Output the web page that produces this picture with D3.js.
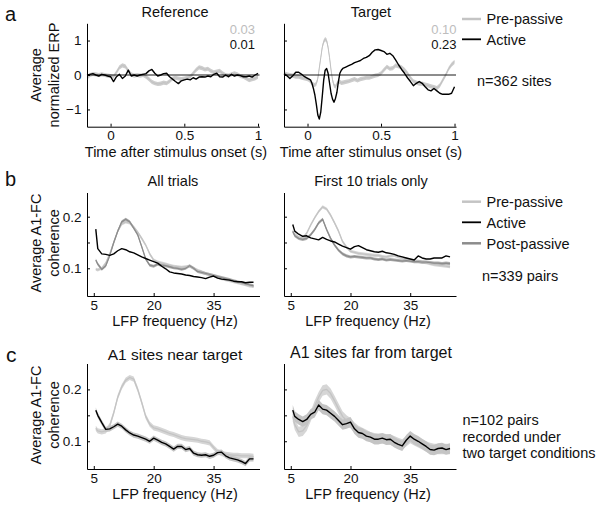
<!DOCTYPE html>
<html><head><meta charset="utf-8">
<script src="https://cdn.jsdelivr.net/npm/d3@7"></script>
<style>body{margin:0;background:#fff} text{font-family:"Liberation Sans",Arial,sans-serif;fill:#111}</style>
</head><body><svg id="c" width="600" height="507"></svg>
<script>
// ---------- DATA ----------
const timeRef = [-0.16,-0.14,-0.12,-0.10,-0.08,-0.06,-0.04,-0.02,0,0.02,0.04,0.06,0.08,0.10,0.12,0.14,0.16,0.18,0.20,0.22,0.24,0.26,0.28,0.30,0.32,0.34,0.36,0.38,0.40,0.42,0.44,0.46,0.48,0.50,0.52,0.54,0.56,0.58,0.60,0.62,0.64,0.66,0.68,0.70,0.72,0.74,0.76,0.78,0.80,0.82,0.84,0.86,0.88,0.90,0.92,0.94,0.96,0.98,1.00];
const refPre = [-0.08,0,0.03,0.02,0,0.02,0,-0.02,-0.03,-0.05,0.08,0.22,0.28,0.25,0.12,0.02,-0.02,0,-0.02,0,-0.05,-0.12,-0.2,-0.24,-0.26,-0.25,-0.22,-0.24,-0.18,-0.1,-0.08,-0.1,-0.12,-0.1,-0.08,-0.05,0.05,0.15,0.22,0.2,0.16,0.18,0.12,0.08,0.1,0.12,0.05,0,-0.02,0.02,0.05,0.02,-0.03,-0.05,-0.1,-0.15,-0.12,-0.1,-0.05];
const refAct = [0,0.02,0.04,0,-0.03,0.02,0,-0.03,-0.05,-0.19,-0.05,0.02,-0.1,-0.03,0.14,-0.03,0,-0.03,0,0.02,0.04,0.12,0.16,0.05,-0.03,0,0.04,0.05,-0.05,-0.12,-0.19,-0.25,-0.17,-0.14,-0.12,-0.14,-0.08,-0.12,-0.06,-0.05,-0.06,-0.03,-0.05,0.02,0.05,-0.05,-0.06,0,-0.05,0.02,-0.03,0,-0.02,-0.05,-0.05,-0.03,-0.06,0,0.05];

const timeTgt = [-0.16,-0.14,-0.12,-0.10,-0.08,-0.06,-0.04,-0.02,
  0,0.01,0.02,0.03,0.04,0.05,0.06,0.07,0.08,0.09,0.10,0.11,0.12,0.13,0.14,0.15,0.16,0.17,0.18,0.19,0.20,0.21,0.22,0.23,0.24,
  0.26,0.28,0.30,0.32,0.34,0.36,0.38,0.40,0.42,0.44,0.46,0.48,0.50,0.52,0.54,0.56,0.58,0.60,0.62,0.64,0.66,0.68,0.70,0.72,0.74,0.76,0.78,0.80,0.82,0.84,0.86,0.88,0.90,0.92,0.94,0.96,0.98,1.00];
const tgtPre = [0.05,0.02,0,-0.02,-0.05,-0.05,-0.08,-0.1,
  -0.12,-0.14,-0.19,-0.24,-0.28,-0.29,-0.25,-0.1,0.2,0.5,0.8,0.97,1.04,1.0,0.8,0.5,0.15,-0.14,-0.3,-0.34,-0.26,-0.2,-0.2,-0.23,-0.22,
  -0.2,-0.18,-0.15,-0.12,-0.16,-0.12,-0.1,-0.08,-0.08,-0.05,-0.02,0,0.05,0.15,0.24,0.18,0.2,0.28,0.25,0.22,0.15,0.05,-0.08,-0.18,-0.22,-0.25,-0.25,-0.28,-0.3,-0.33,-0.35,-0.38,-0.3,-0.15,0,0.18,0.3,0.38];
const tgtAct = [0.04,-0.02,-0.1,-0.02,0.08,0.08,0.02,-0.05,
  -0.1,-0.12,-0.14,-0.24,-0.39,-0.58,-0.85,-1.16,-1.28,-1.08,-0.63,-0.15,0.14,0.19,0.05,-0.24,-0.53,-0.7,-0.79,-0.68,-0.5,-0.19,0.05,0.14,0.19,
  0.23,0.27,0.31,0.36,0.39,0.42,0.48,0.51,0.56,0.66,0.73,0.74,0.71,0.68,0.6,0.63,0.56,0.43,0.29,0.16,0.05,-0.08,-0.19,-0.31,-0.24,-0.19,-0.24,-0.34,-0.43,-0.46,-0.39,-0.46,-0.53,-0.56,-0.56,-0.56,-0.53,-0.34];

const freqHz = [5.5,6,7,8,9,10,11,12,13,14,15,16,17,18,19,20,21,22,23,24,25,26,27,28,29,30,31,32,33,34,35,36,37,38,39,40,41,42,43,44,45];
const allPre  = [0.098,0.097,0.1,0.11,0.128,0.15,0.172,0.186,0.19,0.188,0.18,0.17,0.158,0.145,0.128,0.116,0.112,0.11,0.108,0.106,0.104,0.103,0.102,0.103,0.104,0.1,0.096,0.093,0.09,0.088,0.086,0.083,0.08,0.078,0.076,0.074,0.072,0.07,0.068,0.066,0.065];
const allAct  = [0.176,0.138,0.128,0.127,0.125,0.128,0.134,0.138,0.136,0.132,0.13,0.126,0.122,0.119,0.116,0.113,0.11,0.104,0.099,0.093,0.091,0.09,0.089,0.087,0.086,0.084,0.083,0.082,0.08,0.083,0.085,0.081,0.079,0.078,0.077,0.075,0.074,0.074,0.072,0.073,0.073];
const allPost = [0.116,0.108,0.098,0.105,0.125,0.15,0.172,0.19,0.195,0.19,0.178,0.165,0.142,0.118,0.106,0.104,0.108,0.106,0.105,0.103,0.101,0.1,0.098,0.1,0.105,0.1,0.094,0.092,0.09,0.088,0.086,0.084,0.082,0.08,0.078,0.076,0.074,0.072,0.07,0.068,0.066];
const firstPre  = [0.17,0.166,0.16,0.158,0.168,0.184,0.198,0.21,0.219,0.215,0.203,0.188,0.172,0.152,0.141,0.133,0.131,0.129,0.128,0.127,0.126,0.125,0.125,0.123,0.122,0.124,0.125,0.122,0.12,0.118,0.116,0.115,0.114,0.112,0.111,0.109,0.107,0.106,0.105,0.104,0.103];
const firstAct  = [0.185,0.172,0.166,0.162,0.163,0.159,0.157,0.155,0.16,0.156,0.153,0.151,0.147,0.143,0.14,0.137,0.142,0.144,0.14,0.136,0.134,0.132,0.131,0.133,0.13,0.129,0.127,0.124,0.122,0.12,0.118,0.116,0.124,0.12,0.118,0.118,0.12,0.12,0.12,0.124,0.122];
const firstPost = [0.172,0.163,0.158,0.156,0.158,0.165,0.175,0.188,0.195,0.175,0.158,0.145,0.135,0.128,0.124,0.122,0.123,0.122,0.121,0.12,0.12,0.118,0.117,0.118,0.116,0.117,0.116,0.115,0.114,0.115,0.114,0.113,0.113,0.112,0.112,0.111,0.11,0.11,0.109,0.11,0.109];
const nearPre = [0.125,0.12,0.118,0.12,0.13,0.155,0.185,0.205,0.218,0.223,0.22,0.2,0.175,0.148,0.133,0.126,0.124,0.121,0.118,0.115,0.113,0.11,0.107,0.105,0.104,0.103,0.102,0.1,0.099,0.097,0.088,0.08,0.076,0.075,0.074,0.073,0.073,0.072,0.072,0.072,0.071];
const nearAct = [0.16,0.15,0.136,0.123,0.124,0.128,0.133,0.129,0.122,0.116,0.112,0.11,0.107,0.104,0.1,0.106,0.102,0.098,0.095,0.09,0.085,0.09,0.09,0.084,0.086,0.077,0.074,0.073,0.074,0.071,0.073,0.078,0.079,0.072,0.068,0.066,0.064,0.061,0.057,0.066,0.066];
const farPre = [0.148,0.132,0.118,0.12,0.13,0.148,0.168,0.185,0.198,0.2,0.192,0.178,0.163,0.148,0.14,0.135,0.126,0.12,0.116,0.112,0.108,0.106,0.105,0.105,0.104,0.103,0.1,0.097,0.094,0.1,0.106,0.102,0.098,0.094,0.09,0.087,0.085,0.085,0.085,0.085,0.085];
const farAct = [0.16,0.148,0.142,0.138,0.142,0.152,0.156,0.17,0.162,0.16,0.154,0.148,0.14,0.132,0.134,0.137,0.124,0.117,0.115,0.11,0.108,0.104,0.104,0.106,0.103,0.104,0.098,0.094,0.091,0.102,0.11,0.104,0.1,0.095,0.09,0.084,0.083,0.086,0.087,0.084,0.086];

const semErp = 0.06, semAll = 0.003, semFirst = 0.003, semNear = 0.005, semFar = 0.01;
const timeTicks = [0, 0.5, 1], timeTickLabels = ["0", "0.5", "1"];
const erpTicks = [-1, 0, 1], erpTickLabels = ["\u22121", "0", "1"];
const freqTicks = [5, 20, 35], freqTickLabels = ["5", "20", "35"];
const cohTicks = [0.1, 0.15, 0.2], cohTickLabels = ["0.1", "", "0.2"];
const erpCorrPre = ["0.03", "0.10"], erpCorrAct = ["0.01", "0.23"];

// ---------- STYLE ----------
const C_PRE = "#c4c4c4", C_PRE_BAND = "#d6d6d6", C_POST = "#8c8c8c", C_POST_BAND = "#b0b0b0", C_ACT = "#000", C_ACT_BAND = "#c4c4c4";
const svg = d3.select("#c");

function panel(cfg) {
  const x = d3.scaleLinear().domain(cfg.xDom).range(cfg.xRange);
  const y = d3.scaleLinear().domain(cfg.yDom).range(cfg.yRange);
  const g = svg.append("g");
  const pts = s => s.xs.map((xv, i) => [xv, s.v[i]]);
  cfg.series.forEach(s => {
    if (s.sem) g.append("path").datum(pts(s))
      .attr("d", d3.area().x(d => x(d[0])).y0(d => y(d[1] - s.sem)).y1(d => y(d[1] + s.sem)))
      .attr("fill", s.band).attr("stroke", "none");
  });
  cfg.series.filter(s => !s.top).forEach(s => {
    g.append("path").datum(pts(s)).attr("d", d3.line().x(d => x(d[0])).y(d => y(d[1])))
      .attr("fill", "none").attr("stroke", s.color).attr("stroke-width", s.w).attr("stroke-linejoin", "round");
  });
  if (cfg.zero) g.append("path").datum(cfg.xDom)
      .attr("d", d3.line().x(d => x(d)).y(() => y(0)))
      .attr("stroke", "#000").attr("stroke-width", 0.9);
  cfg.series.filter(s => s.top).forEach(s => {
    g.append("path").datum(pts(s)).attr("d", d3.line().x(d => x(d[0])).y(d => y(d[1])))
      .attr("fill", "none").attr("stroke", s.color).attr("stroke-width", s.w).attr("stroke-linejoin", "round");
  });
  const ax = d3.axisBottom(x).tickValues(cfg.xTicks).tickFormat((d, i) => cfg.xLabels[i])
    .tickSizeInner(-3).tickSizeOuter(0).tickPadding(cfg.xPad);
  const gx = g.append("g").attr("transform", `translate(0,${cfg.yRange[0]})`).call(ax);
  const ay = d3.axisLeft(y).tickValues(cfg.yTicks).tickFormat((d, i) => cfg.yLabels ? cfg.yLabels[i] : "")
    .tickSizeInner(-3).tickSizeOuter(0).tickPadding(5.5);
  const gy = g.append("g").attr("transform", `translate(${cfg.xRange[0]},0)`).call(ay);
  [gx, gy].forEach(a => {
    a.attr("font-family", null).attr("font-size", null);
    a.selectAll("text").style("font-size", "13.5px").attr("fill", "#111");
    a.selectAll("path,line").attr("stroke", "#000").attr("stroke-width", 1);
  });
}

function txt(x, y, s, o = {}) {
  const t = svg.append("text").attr("x", x).attr("y", y).text(s)
    .style("font-size", (o.size || 14.5) + "px").attr("text-anchor", o.anchor || "start");
  if (o.fill) t.style("fill", o.fill);
  if (o.rot) t.attr("transform", `rotate(-90,${x},${y})`);
  return t;
}

const XL = [87, 259.5], XR = [284, 456];
const tDom = [-0.16, 1.01], fDom = [3.3, 46.5];

// Row a
[[XL, refPre, refAct, timeRef, erpTickLabels], [XR, tgtPre, tgtAct, timeTgt, null]].forEach(([xr, pre, act, ts, yl]) => {
  panel({xDom: tDom, xRange: xr, yDom: [-1.5, 1.5], yRange: [126.7, 23.3], zero: true,
    xTicks: timeTicks, xLabels: timeTickLabels, xPad: 4, yTicks: erpTicks, yLabels: yl,
    series: [
      {xs: ts, v: pre, sem: semErp, band: "#cdcdcd", color: "#c2c2c2", w: 1},
      {xs: ts, v: act, color: C_ACT, w: 1.4, top: true}]});
});
// Row b
[[XL, allPre, allAct, allPost, cohTickLabels], [XR, firstPre, firstAct, firstPost, null]].forEach(([xr, pre, act, post, yl], k) => {
  const sem = k ? semFirst : semAll;
  panel({xDom: fDom, xRange: xr, yDom: [0.0463, 0.2469], yRange: [296, 192.5],
    xTicks: freqTicks, xLabels: freqTickLabels, xPad: 4, yTicks: cohTicks, yLabels: yl,
    series: [
      {xs: freqHz, v: pre, sem: sem, band: C_PRE_BAND, color: C_PRE, w: 1.3},
      {xs: freqHz, v: post, sem: sem, band: C_POST_BAND, color: C_POST, w: 1.3},
      {xs: freqHz, v: act, color: C_ACT, w: 1.4, top: true}]});
});
// Row c
[[XL, nearPre, nearAct, semNear, cohTickLabels], [XR, farPre, farAct, semFar, null]].forEach(([xr, pre, act, sem, yl]) => {
  panel({xDom: fDom, xRange: xr, yDom: [0.0465, 0.25], yRange: [469, 363.5],
    xTicks: freqTicks, xLabels: freqTickLabels, xPad: 4, yTicks: cohTicks, yLabels: yl,
    series: [
      {xs: freqHz, v: pre, sem: sem, band: C_PRE_BAND, color: C_PRE, w: 1.3},
      {xs: freqHz, v: act, sem: sem, band: C_ACT_BAND, color: C_ACT, w: 1.4, top: true}]});
});

// Panel letters
txt(5, 20.5, "a", {size: 20});
txt(5, 186, "b", {size: 20});
txt(6, 361.5, "c", {size: 21});

// Titles
txt(175, 17, "Reference", {anchor: "middle"});
txt(371, 17, "Target", {anchor: "middle"});
txt(173, 186, "All trials", {anchor: "middle"});
txt(371, 186, "First 10 trials only", {anchor: "middle"});
txt(175, 359.5, "A1 sites near target", {anchor: "middle", size: 15.5});
txt(371, 358, "A1 sites far from target", {anchor: "middle", size: 16});

// Axis titles
txt(176, 156.8, "Time after stimulus onset (s)", {anchor: "middle"});
txt(371, 156.8, "Time after stimulus onset (s)", {anchor: "middle"});
[[175, 326.2], [368, 326.2], [175, 499], [368, 499]].forEach(([x, y]) => txt(x, y, "LFP frequency (Hz)", {anchor: "middle"}));
txt(41, 75, "Average", {anchor: "middle", rot: true});
txt(59, 75, "normalized ERP", {anchor: "middle", rot: true});
[243, 415].forEach(cy => {
  txt(40.5, cy, "Average A1-FC", {anchor: "middle", rot: true});
  txt(58.5, cy, "coherence", {anchor: "middle", rot: true});
});

// Correlation numbers
txt(255, 34, erpCorrPre[0], {anchor: "end", fill: "#bdbdbd", size: 13});
txt(255, 48.8, erpCorrAct[0], {anchor: "end", size: 13});
txt(456.5, 34, erpCorrPre[1], {anchor: "end", fill: "#bdbdbd", size: 13});
txt(456.5, 48.8, erpCorrAct[1], {anchor: "end", size: 13});

// Legends
function legItem(y, color, w, label) {
  svg.append("line").attr("x1", 462).attr("x2", 481).attr("y1", y).attr("y2", y)
    .attr("stroke", color).attr("stroke-width", w);
  txt(486.5, y + 5.2, label);
}
legItem(19, C_PRE, 2.5, "Pre-passive");
legItem(39.3, C_ACT, 1.8, "Active");
txt(477, 86, "n=362 sites");
legItem(201.7, C_PRE, 2.5, "Pre-passive");
legItem(222.3, C_ACT, 1.8, "Active");
legItem(243.3, C_POST, 2.5, "Post-passive");
txt(482, 281, "n=339 pairs");
txt(462.5, 425.2, "n=102 pairs");
txt(462.5, 441.8, "recorded under");
txt(462.5, 458, "two target conditions");
</script></body></html>
